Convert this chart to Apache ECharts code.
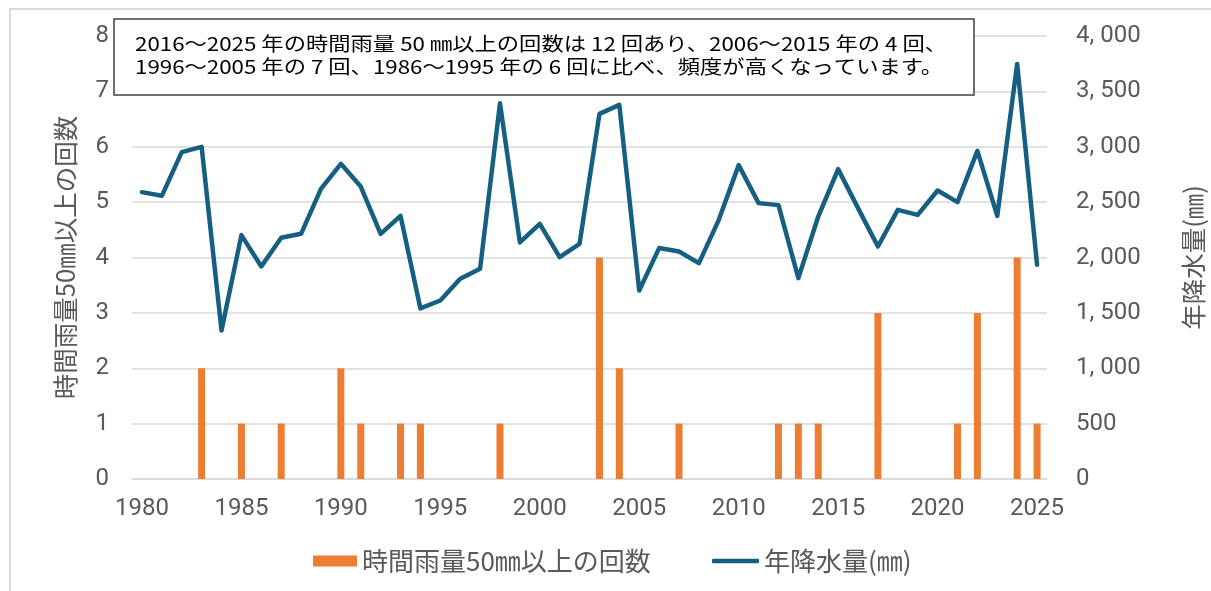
<!DOCTYPE html>
<html>
<head>
<meta charset="utf-8">
<script src="https://cdn.jsdelivr.net/npm/echarts@6/dist/echarts.min.js"></script>
<style>
html,body{margin:0;padding:0;background:#fff;}
#chart{width:1211px;height:591px;}
</style>
</head>
<body>
<div id="chart"></div>
<script>
const years = ['1980','1981','1982','1983','1984','1985','1986','1987','1988','1989',
  '1990','1991','1992','1993','1994','1995','1996','1997','1998','1999',
  '2000','2001','2002','2003','2004','2005','2006','2007','2008','2009',
  '2010','2011','2012','2013','2014','2015','2016','2017','2018','2019',
  '2020','2021','2022','2023','2024','2025'];
const heavyRainCounts = [0,0,0,2,0,1,0,1,0,0,
  2,1,0,1,1,0,0,0,1,0,
  0,0,0,4,2,0,0,1,0,0,
  0,0,1,1,1,0,0,3,0,0,
  0,1,3,0,4,1];
const annualRain = [2590,2557,2951,2999,1341,2202,1919,2178,2214,2620,
  2846,2641,2214,2376,1540,1612,1808,1898,3393,2136,
  2304,2003,2124,3297,3378,1702,2085,2054,1949,2340,
  2834,2491,2473,1814,2370,2798,2446,2099,2430,2385,
  2605,2500,2963,2376,3748,1934];
const seriesNames = ['時間雨量50㎜以上の回数', '年降水量(㎜)'];
const noteLines = [
  '2016～2025 年の時間雨量 50 ㎜以上の回数は 12 回あり、2006～2015 年の 4 回、',
  '1996～2005 年の 7 回、1986～1995 年の 6 回に比べ、頻度が高くなっています。'
];

const numFont = '"Roboto", sans-serif';
const jpFont = '"Noto Sans CJK JP", sans-serif';
const gray = '#595959';
const barColor = '#ED7D31';
const lineColor = '#175F82';

// measure note text to fit the box width
const cv = document.createElement('canvas').getContext('2d');
const noteSize = 19;
cv.font = noteSize + 'px ' + jpFont;
const w1 = cv.measureText(noteLines[0]).width;
const noteScale = 812 / w1;

const chart = echarts.init(document.getElementById('chart'));
chart.setOption({
  animation: false,
  grid: {left: 132, right: 164, top: 36, bottom: 112, containLabel: false, outerBoundsMode: 'none'},
  legend: [
    {
      left: 308, top: 543,
      itemWidth: 44, itemHeight: 11,
      textStyle: {fontFamily: jpFont, fontSize: 26, color: gray},
      data: [{name: seriesNames[0], icon: 'rect'}]
    },
    {
      left: 707, top: 543,
      itemWidth: 47, itemHeight: 4.5,
      textStyle: {fontFamily: jpFont, fontSize: 26, color: gray},
      data: [{name: seriesNames[1], icon: 'roundRect', itemStyle: {color: lineColor}}]
    }
  ],
  xAxis: {
    type: 'category',
    data: years,
    boundaryGap: true,
    axisTick: {show: false},
    axisLine: {lineStyle: {color: '#d9d9d9', width: 1.5}},
    axisLabel: {interval: 4, margin: 18, color: gray, fontFamily: numFont, fontSize: 24}
  },
  yAxis: [
    {
      type: 'value', min: 0, max: 8, interval: 1,
      name: seriesNames[0], nameLocation: 'middle', nameGap: 54,
      nameTextStyle: {fontFamily: jpFont, fontSize: 25.5, color: gray},
      axisLine: {show: false}, axisTick: {show: false},
      axisLabel: {margin: 23, color: gray, fontFamily: numFont, fontSize: 24},
      splitLine: {lineStyle: {color: '#d9d9d9', width: 1.5}}
    },
    {
      type: 'value', min: 0, max: 4000, interval: 500,
      name: seriesNames[1], nameLocation: 'middle', nameGap: 134,
      nameTextStyle: {fontFamily: jpFont, fontSize: 25.5, color: gray},
      axisLine: {show: false}, axisTick: {show: false},
      axisLabel: {
        margin: 29, color: gray, fontFamily: numFont, fontSize: 24,
        formatter: function (v) {
          if (v < 1000) return String(v);
          const s = String(v);
          return s.slice(0, s.length - 3) + ', ' + s.slice(-3);
        }
      },
      splitLine: {show: false}
    }
  ],
  series: [
    {
      name: seriesNames[0], type: 'bar', yAxisIndex: 0,
      data: heavyRainCounts, barWidth: 7,
      itemStyle: {color: barColor}
    },
    {
      name: seriesNames[1], type: 'line', yAxisIndex: 1,
      data: annualRain, showSymbol: false, symbol: 'none',
      lineStyle: {color: lineColor, width: 4.5, join: 'round', cap: 'round'},
      itemStyle: {color: lineColor}
    }
  ],
  graphic: [
    {
      type: 'rect', silent: true, z: 0,
      shape: {x: 10, y: 9, width: 1400, height: 800},
      style: {fill: null, stroke: '#d0d0d0', lineWidth: 1.5}
    },
    {
      type: 'rect', z: 100,
      shape: {x: 114, y: 19, width: 860, height: 76},
      style: {fill: '#fff', stroke: '#404040', lineWidth: 1.5}
    },
    {
      type: 'text', z: 101, x: 135, y: 44, scaleX: noteScale,
      style: {text: noteLines[0], font: noteSize + 'px ' + jpFont, fill: '#000', textVerticalAlign: 'middle', verticalAlign: 'middle'}
    },
    {
      type: 'text', z: 101, x: 135, y: 67, scaleX: noteScale,
      style: {text: noteLines[1], font: noteSize + 'px ' + jpFont, fill: '#000', textVerticalAlign: 'middle', verticalAlign: 'middle'}
    }
  ]
});
</script>
</body>
</html>
